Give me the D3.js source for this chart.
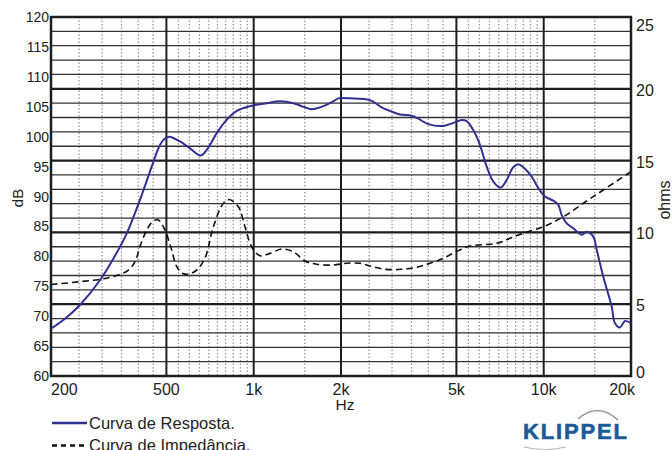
<!DOCTYPE html>
<html>
<head>
<meta charset="utf-8">
<script src="https://cdn.jsdelivr.net/npm/d3@7"></script>
<style>
  body { margin: 0; background: #fff; }
  svg { display: block; font-family: "Liberation Sans", Arial, Helvetica, sans-serif; }
</style>
</head>
<body>
<svg id="chart" width="672" height="450"></svg>
<script>
// Frequency response (dB, left axis)
const respFreq = [200, 224, 252, 295, 328, 365, 405, 445, 475, 494, 512, 557, 603, 655, 689, 746, 807, 874, 971,
  1109, 1233, 1370, 1483, 1585, 1693, 1881, 1957, 2148, 2518, 2762, 2950, 3194, 3506, 3696, 4000, 4506, 4878,
  5216, 5425, 5718, 6030, 6360, 6702, 7106, 7456, 7857, 8176, 8507, 9094, 9580, 10102, 10791, 11229, 11536,
  12004, 12649, 13522, 14069, 14825, 15230, 16050, 17156, 17614, 18330, 19070, 20000];
const respDb = [67.9, 69.6, 71.9, 76.0, 79.6, 83.85, 89.4, 95.0, 98.6, 99.7, 100.0, 99.2, 98.05, 96.85, 97.8, 100.6,
  102.8, 104.3, 105.1, 105.6, 105.9, 105.6, 105.0, 104.6, 104.9, 105.9, 106.4, 106.4, 106.1, 104.9, 104.3, 103.7,
  103.5, 103.0, 102.1, 101.8, 102.3, 102.8, 102.6, 101.1, 98.6, 95.0, 92.5, 91.5, 92.8, 94.9, 95.4, 94.9, 93.3,
  91.4, 90.0, 89.3, 88.6, 86.9, 85.5, 84.7, 83.6, 84.1, 83.3, 81.1, 76.6, 71.6, 68.8, 68.1, 69.2, 68.8];

// Impedance (ohms, right axis)
const impFreq = [200, 252, 299, 341, 370, 390, 405, 428, 451, 469, 494, 519, 543, 570, 594, 636, 679, 726, 786,
  822, 885, 933, 984, 1051, 1138, 1249, 1370, 1502, 1649, 1881, 2092, 2326, 2518, 2838, 3238, 3648, 4056, 4506,
  5076, 5570, 6886, 7652, 8507, 9968, 11686, 13690, 16050, 20000];
const impOhm = [6.37, 6.57, 6.75, 7.03, 7.38, 7.96, 9.0, 10.17, 10.81, 10.86, 10.17, 8.91, 7.61, 7.14, 7.09, 7.38,
  8.2, 10.4, 12.03, 12.29, 11.79, 10.4, 9.0, 8.38, 8.54, 8.84, 8.66, 8.01, 7.78, 7.73, 7.85, 7.85, 7.66, 7.43,
  7.43, 7.57, 7.85, 8.2, 8.73, 9.05, 9.24, 9.59, 9.94, 10.4, 11.09, 12.03, 12.95, 14.24];

// Axis ticks
const dbTicks = [60, 65, 70, 75, 80, 85, 90, 95, 100, 105, 110, 115, 120];
const ohmTicks = [0, 5, 10, 15, 20, 25];
const freqTicks = [200, 500, 1000, 2000, 5000, 10000, 20000];
const freqLabels = ["200", "500", "1k", "2k", "5k", "10k", "20k"];
const majorFreqs = [500, 1000, 2000, 5000, 10000];
const minorFreqs = [250, 300, 350, 400, 450, 550, 600, 650, 700, 750, 800, 850, 900, 950, 1500,
  2500, 3000, 3500, 4000, 4500, 5500, 6000, 6500, 7000, 7500, 8000, 8500, 9000, 9500, 15000];

const svg = d3.select("#chart");
const plot = { left: 51, right: 631, top: 17, bottom: 376 };

const x = d3.scaleLog().domain([200, 20000]).range([plot.left, plot.right]);
const yDb = d3.scaleLinear().domain([60, 120]).range([plot.bottom, plot.top]);
const yOhm = d3.scaleLinear().domain([0, 25]).range([plot.bottom, plot.top]);

const grid = svg.append("g");

// Dotted minor frequency lines
grid.selectAll(".minor")
  .data(minorFreqs)
  .enter()
  .append("line")
  .attr("x1", d => x(d)).attr("x2", d => x(d))
  .attr("y1", plot.top).attr("y2", plot.bottom)
  .attr("stroke", "#9a9a9a")
  .attr("stroke-width", 1.3)
  .attr("stroke-dasharray", "1.5,2");

// Horizontal lines every 1 ohm
grid.selectAll(".hline")
  .data(d3.range(1, 25))
  .enter()
  .append("line")
  .attr("x1", plot.left).attr("x2", plot.right)
  .attr("y1", d => yOhm(d)).attr("y2", d => yOhm(d))
  .attr("stroke", d => d % 5 === 0 ? "#1e1e1e" : "#333")
  .attr("stroke-width", d => d % 5 === 0 ? 2.2 : 1.3);

// Major frequency lines
grid.selectAll(".major")
  .data(majorFreqs)
  .enter()
  .append("line")
  .attr("x1", d => x(d)).attr("x2", d => x(d))
  .attr("y1", plot.top).attr("y2", plot.bottom)
  .attr("stroke", "#1e1e1e")
  .attr("stroke-width", 2);

// Frame
svg.append("rect")
  .attr("x", plot.left).attr("y", plot.top)
  .attr("width", plot.right - plot.left).attr("height", plot.bottom - plot.top)
  .attr("fill", "none")
  .attr("stroke", "#1e1e1e")
  .attr("stroke-width", 2.5);

// Curves
const respLine = d3.line()
  .x(d => x(d[0]))
  .y(d => yDb(d[1]))
  .curve(d3.curveCatmullRom.alpha(0.5));

const impLine = d3.line()
  .x(d => x(d[0]))
  .y(d => yOhm(d[1]))
  .curve(d3.curveCatmullRom.alpha(0.5));

svg.append("path")
  .datum(impFreq.map((f, i) => [f, impOhm[i]]))
  .attr("d", impLine)
  .attr("fill", "none")
  .attr("stroke", "#111")
  .attr("stroke-width", 1.6)
  .attr("stroke-dasharray", "6.5,4");

svg.append("path")
  .datum(respFreq.map((f, i) => [f, respDb[i]]))
  .attr("d", respLine)
  .attr("fill", "none")
  .attr("stroke", "#2e3192")
  .attr("stroke-width", 2);

// Left axis labels
svg.selectAll(".dblab")
  .data(dbTicks)
  .enter()
  .append("text")
  .attr("x", 49)
  .attr("y", d => yDb(d) + 5)
  .attr("text-anchor", "end")
  .attr("font-size", 14)
  .attr("fill", "#222")
  .text(d => d);

// Right axis labels
svg.selectAll(".ohmlab")
  .data(ohmTicks)
  .enter()
  .append("text")
  .attr("x", 636)
  .attr("y", d => Math.max(25, Math.min(372, yOhm(d) + 1)) + 6)
  .attr("font-size", 16)
  .attr("fill", "#222")
  .text(d => d);

// Bottom labels
svg.selectAll(".flab")
  .data(freqTicks)
  .enter()
  .append("text")
  .attr("x", (d, i) => i === 0 ? plot.left : i === freqTicks.length - 1 ? plot.right + 4 : x(d))
  .attr("y", 395)
  .attr("text-anchor", (d, i) => i === 0 ? "start" : i === freqTicks.length - 1 ? "end" : "middle")
  .attr("font-size", 16)
  .attr("fill", "#222")
  .text((d, i) => freqLabels[i]);

// Axis titles
svg.append("text")
  .attr("x", 345).attr("y", 410)
  .attr("text-anchor", "middle")
  .attr("font-size", 15.5)
  .attr("fill", "#222")
  .text("Hz");

svg.append("text")
  .attr("transform", "translate(23,198) rotate(-90)")
  .attr("text-anchor", "middle")
  .attr("font-size", 15)
  .attr("fill", "#222")
  .text("dB");

svg.append("text")
  .attr("transform", "translate(670,200) rotate(-90)")
  .attr("text-anchor", "middle")
  .attr("font-size", 16)
  .attr("fill", "#222")
  .text("ohms");

// Legend
const legend = svg.append("g");
legend.append("line")
  .attr("x1", 52).attr("x2", 87).attr("y1", 423).attr("y2", 423)
  .attr("stroke", "#2e3192").attr("stroke-width", 2.5);
legend.append("text")
  .attr("x", 89).attr("y", 428.5)
  .attr("font-size", 16.5).attr("fill", "#222")
  .text("Curva de Resposta.");
legend.append("line")
  .attr("x1", 52).attr("x2", 84).attr("y1", 445.5).attr("y2", 445.5)
  .attr("stroke", "#111").attr("stroke-width", 2.5)
  .attr("stroke-dasharray", "5,4");
legend.append("text")
  .attr("x", 89).attr("y", 451)
  .attr("font-size", 16.5).attr("fill", "#222")
  .text("Curva de Impedância.");

// KLIPPEL logo
const logo = svg.append("g");
logo.append("path")
  .attr("d", "M578,419 Q598,402 618,420")
  .attr("fill", "none")
  .attr("stroke", "#8a8a8a")
  .attr("stroke-width", 1.2);
logo.append("path")
  .attr("d", "M524,447 Q545,452 566,447")
  .attr("fill", "none")
  .attr("stroke", "#b5b5b5")
  .attr("stroke-width", 1);
logo.append("text")
  .attr("x", 523).attr("y", 439)
  .attr("font-size", 22)
  .attr("font-weight", "bold")
  .attr("fill", "#1d5b98")
  .attr("stroke", "#1d5b98")
  .attr("stroke-width", 0.6)
  .attr("textLength", 104)
  .attr("lengthAdjust", "spacing")
  .text("KLIPPEL");
</script>
</body>
</html>
